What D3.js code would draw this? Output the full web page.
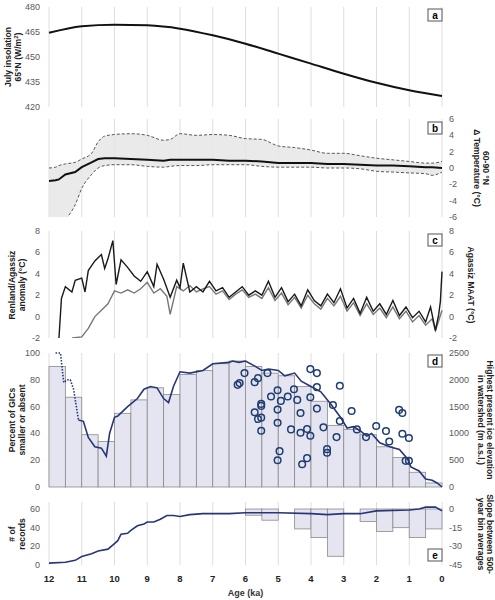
<!DOCTYPE html>
<html><head><meta charset="utf-8">
<script src="https://cdn.jsdelivr.net/npm/d3@7"></script>
<style>
body{margin:0;background:#fff}
text{font-family:"Liberation Sans",Arial,sans-serif}
.tick{font-size:9px;fill:#595959}
.ttl{font-size:8.6px;font-weight:bold;fill:#222}
</style></head><body><div id="chart"></div>
<script>
// panel a: insolation
const insAge = [12, 11, 10, 9, 8, 7, 6, 5, 4, 3, 2, 1, 0]
const insVal = [464.5, 468.5, 469.4, 469, 467, 463, 458, 452, 446, 440, 434.5, 430, 426.6]

// panel b: 60-90N temperature stack
const bAge = [12, 11.8, 11.7, 11.5, 11.2, 11, 10.7, 10.5, 10.3, 10, 9.5, 9, 8.5, 8.3, 8, 7.5, 7, 6.5, 6, 5.5, 5, 4.5, 4, 3.5, 3, 2.5, 2, 1.5, 1, 0.5, 0.3, 0]
const bMean = [-1.6, -1.5, -1.4, -0.8, -0.5, 0.1, 0.7, 1.1, 1.2, 1.2, 1.1, 1.0, 0.9, 1.0, 1.0, 1.0, 1.0, 0.9, 0.9, 0.8, 0.6, 0.6, 0.6, 0.5, 0.5, 0.4, 0.3, 0.3, 0.2, 0.1, 0.1, 0]
const bUpper = [0, 0.1, 0.3, 0.5, 0.7, 1.1, 1.8, 3.2, 3.9, 4.1, 4.2, 4.0, 3.4, 3.5, 4.2, 4.0, 4.1, 4.0, 3.6, 3.5, 2.7, 2.5, 2.2, 1.8, 1.8, 1.5, 1.2, 1.0, 0.8, 0.6, 0.6, 0.8]
const bLower = [-8.5, -7.5, -7, -6.3, -4.5, -2.5, -0.8, 0, 0.3, 0.4, 0.4, 0.2, 0.1, 0.2, 0.3, 0.3, 0.4, 0.4, 0.4, 0.2, 0.1, 0.1, 0.1, 0.0, 0.0, -0.1, -0.4, -0.5, -0.6, -0.7, -0.9, -0.5]

// panel c: Agassiz MAAT (black) and Renland/Agassiz anomaly (grey)
const cAgeA = [11.7, 11.62, 11.5, 11.3, 11.2, 11.0, 10.9, 10.8, 10.6, 10.4, 10.3, 10.2, 10.05, 9.95, 9.8, 9.6, 9.4, 9.2, 9.0, 8.8, 8.7, 8.5, 8.3, 8.1, 8.0, 7.9, 7.7, 7.5, 7.3, 7.1, 6.9, 6.7, 6.5, 6.3, 6.1, 5.9, 5.7, 5.5, 5.3, 5.1, 4.9, 4.7, 4.5, 4.3, 4.1, 3.9, 3.7, 3.5, 3.3, 3.1, 2.9, 2.7, 2.5, 2.3, 2.1, 1.9, 1.7, 1.5, 1.3, 1.1, 0.9, 0.7, 0.5, 0.35, 0.2, 0.1, 0.05, 0]
const cValA = [-2.2, 1.7, 2.8, 2.3, 3.4, 3.6, 2.3, 4.3, 5.2, 5.8, 4.5, 5.4, 7.1, 3.0, 5.3, 4.6, 3.8, 3.3, 4.2, 2.8, 4.9, 3.5, 1.8, 3.4, 2.7, 5.0, 2.3, 2.8, 2.3, 3.3, 2.4, 2.7, 1.8, 2.3, 2.8, 2.0, 2.4, 2.0, 3.3, 1.8, 2.7, 1.4, 2.1, 1.0, 2.5, 1.5, 1.0, 2.1, 1.3, 2.6, 0.8, 1.7, 0.3, 1.8, 0.5, 1.2, 0.2, 1.5, 0.1, 0.9, -0.1, 0.5, -0.5, 0.9, -1.3, 0.2, 1.4, 4.2]
const cAgeR = [11.3, 11.0, 10.8, 10.6, 10.4, 10.2, 10.0, 9.8, 9.6, 9.4, 9.2, 9.0, 8.8, 8.6, 8.4, 8.3, 8.1, 7.9, 7.7, 7.5, 7.3, 7.1, 6.9, 6.7, 6.5, 6.3, 6.1, 5.9, 5.7, 5.5, 5.3, 5.1, 4.9, 4.7, 4.5, 4.3, 4.1, 3.9, 3.7, 3.5, 3.3, 3.1, 2.9, 2.7, 2.5, 2.3, 2.1, 1.9, 1.7, 1.5, 1.3, 1.1, 0.9, 0.7, 0.5, 0.3, 0.2, 0.1, 0]
const cValR = [-2.0, -1.9, -1.1, 0.0, 0.6, 1.2, 2.4, 2.2, 2.5, 2.2, 2.6, 3.2, 2.2, 2.6, 1.9, 0.2, 2.8, 2.4, 2.9, 2.3, 2.6, 2.8, 2.1, 2.4, 1.6, 2.1, 2.5, 1.8, 2.1, 1.7, 2.7, 1.5, 2.2, 1.1, 1.8, 0.8, 2.0, 1.2, 0.7, 1.7, 1.0, 1.9, 0.5, 1.3, 0.1, 1.2, 0.2, 0.8, -0.1, 0.9, -0.2, 0.5, -0.5, 0.1, -0.8, -0.2, -1.3, -0.4, 0.6]

// panel d: percent of GICs smaller or absent
const dBinStart = [12, 11.5, 11, 10.5, 10, 9.5, 9, 8.5, 8, 7.5, 7, 6.5, 6, 5.5, 5, 4.5, 4, 3.5, 3, 2.5, 2, 1.5, 1, 0.5]
const dBinPct = [90, 67, 39, 34, 55, 65, 74, 69, 84, 87, 92, 94, 90, 85, 83, 75, 64, 46, 43, 39, 30, 22, 11, 3]
const dDotAge = [11.8, 11.65, 11.55, 11.45, 11.35, 11.25, 11.1]
const dDotPct = [100, 100, 78, 80, 80, 73, 50]
const dLineAge = [11.1, 10.95, 10.8, 10.6, 10.4, 10.25, 10.15, 10, 9.9, 9.6, 9.3, 9.1, 8.9, 8.7, 8.5, 8.35, 8.2, 8, 7.7, 7.3, 7, 6.5, 6.4, 6.2, 6, 5.7, 5.5, 5.3, 5, 4.8, 4.5, 4.3, 4, 3.7, 3.4, 3.1, 2.9, 2.7, 2.5, 2.3, 2.15, 1.9, 1.6, 1.3, 1.05, 0.95, 0.7, 0.5, 0.3, 0.15, 0]
const dLinePct = [50, 49, 37, 30, 29, 23, 40, 52, 53, 60, 66, 73, 75, 74, 66, 63, 75, 86, 85, 87, 92, 93, 94, 93, 94, 90, 87, 88, 87, 83, 85, 79, 75, 71, 62, 52, 44, 45, 42, 38, 40, 33, 30, 28, 21, 15, 12, 6, 5, 3, 0]
const iceAge = [6.24, 6.18, 6.03, 5.72, 5.62, 5.33, 5.72, 5.62, 5.52, 5.52, 5.52, 5.52, 5.22, 5.02, 5.02, 5.02, 4.96, 5.02, 4.92, 4.71, 4.61, 4.52, 4.42, 4.32, 4.32, 4.27, 4.12, 4.12, 4.02, 4.02, 4.02, 3.82, 3.82, 3.82, 3.62, 3.51, 3.51, 3.33, 3.22, 3.12, 3.12, 2.76, 2.6, 2.32, 2.01, 1.71, 1.61, 1.31, 1.21, 1.21, 1.11, 1.01, 1.01]
const iceElev = [1906, 1938, 2125, 1956, 2031, 2125, 1394, 1269, 1294, 1550, 1513, 1050, 1688, 1806, 1444, 1200, 669, 500, 1606, 1688, 1075, 1825, 1625, 1381, 1013, 425, 538, 1081, 2200, 1675, 956, 2125, 1863, 1463, 1113, 706, 638, 1531, 931, 1888, 1231, 1419, 1075, 931, 1138, 1044, 850, 1438, 1381, 994, 488, 488, 913]

// panel e: number of records and slope between bins
const eAge = [12, 11.5, 11.2, 11, 10.7, 10.5, 10.2, 10, 9.9, 9.8, 9.6, 9.5, 9.3, 9.1, 9, 8.8, 8.6, 8.4, 8.2, 8, 7.7, 7.3, 7, 6.5, 6, 5, 4, 3.5, 3, 2.5, 2, 1, 0.7, 0.5, 0.2, 0]
const eRec = [2, 3, 5, 9, 12, 15, 17, 23, 26, 33, 34, 37, 42, 44, 46, 46, 49, 53, 53, 52, 54, 55, 55, 55, 56, 56, 55, 54, 55, 55, 58, 59, 60, 62, 62, 58]
const eBinStart = [6, 5.5, 5, 4.5, 4, 3.5, 3, 2.5, 2, 1.5, 1, 0.5]
const eSlope = [-5, -9, 0, -16, -23, -38, 0, -10, -18, -15, -23, -16]

const xTicks = d3.range(0, 13)
const navy = '#27357a'

const W = 495, H = 600
const svg = d3.select('#chart').append('svg').attr('width', W).attr('height', H)
const x = d3.scaleLinear().domain([12, 0]).range([49, 442])

function grid(y0, y1) {
  svg.append('g').selectAll('line').data(xTicks).enter().append('line')
    .attr('x1', d => x(d)).attr('x2', d => x(d)).attr('y1', y0).attr('y2', y1)
    .attr('stroke', '#dedede').attr('stroke-width', 1)
}
function leftTicks(y, vals) {
  svg.append('g').selectAll('text').data(vals).enter().append('text')
    .attr('class', 'tick').attr('x', 40).attr('y', d => y(d) + 3).attr('text-anchor', 'end').text(d => d)
}
function rightTicks(y, vals) {
  svg.append('g').selectAll('text').data(vals).enter().append('text')
    .attr('class', 'tick').attr('x', 449).attr('y', d => y(d) + 3).text(d => d)
}
function title(xp, yp, lines, rot) {
  const t = svg.append('text').attr('class', 'ttl').attr('text-anchor', 'middle')
    .attr('transform', `translate(${xp},${yp}) rotate(${rot})`)
  lines.forEach((l, i) => t.append('tspan').attr('x', 0).attr('dy', i ? 9.5 : 0).text(l))
  return t
}
function box(yTop, letter) {
  svg.append('rect').attr('x', 428).attr('y', yTop).attr('width', 14).attr('height', 12)
    .attr('fill', '#fff').attr('stroke', '#555')
  svg.append('text').attr('x', 435).attr('y', yTop + 9.5).attr('text-anchor', 'middle')
    .attr('font-size', 10).attr('font-weight', 'bold').text(letter)
}

// ---- a
const ya = d3.scaleLinear().domain([420, 480]).range([107, 7])
grid(7, 107)
leftTicks(ya, [420, 435, 450, 465, 480])
svg.append('path').attr('fill', 'none').attr('stroke', '#111').attr('stroke-width', 2)
  .attr('d', d3.line().curve(d3.curveMonotoneX).x((d, i) => x(insAge[i])).y(d => ya(d))(insVal))
const ta = title(11, 57, ['July insolation', '65°N (W/m'], -90)
ta.select('tspan:last-child').append('tspan').attr('baseline-shift', 'super').attr('font-size', 6).text('2')
ta.select('tspan:last-child').append('tspan').text(')')
box(9, 'a')

// ---- b
const yb = d3.scaleLinear().domain([-6, 6]).range([217, 119])
grid(119, 217)
rightTicks(yb, [-6, -4, -2, 0, 2, 4, 6])
svg.append('clipPath').attr('id', 'cb').append('rect').attr('x', 49).attr('y', 119).attr('width', 393).attr('height', 98)
const gb = svg.append('g').attr('clip-path', 'url(#cb)')
gb.append('path').attr('fill', '#e6e6e6').attr('opacity', 0.85)
  .attr('d', d3.area().curve(d3.curveMonotoneX).x((d, i) => x(bAge[i])).y0((d, i) => yb(bLower[i])).y1(d => yb(d))(bUpper))
;[bUpper, bLower].forEach(s => gb.append('path').attr('fill', 'none').attr('stroke', '#444').attr('stroke-width', 0.9)
  .attr('stroke-dasharray', '3,2').attr('d', d3.line().curve(d3.curveMonotoneX).x((d, i) => x(bAge[i])).y(d => yb(d))(s)))
gb.append('path').attr('fill', 'none').attr('stroke', '#111').attr('stroke-width', 2)
  .attr('d', d3.line().x((d, i) => x(bAge[i])).y(d => yb(d))(bMean))
title(483, 168, ['60-90 °N', 'Δ Temperature (°C)'], 90)
box(122, 'b')

// ---- c
const yc = d3.scaleLinear().domain([-2, 8]).range([338, 231])
grid(231, 338)
leftTicks(yc, [-2, 0, 2, 4, 6, 8])
rightTicks(yc, [-2, 0, 2, 4, 6, 8])
svg.append('clipPath').attr('id', 'cc').append('rect').attr('x', 49).attr('y', 231).attr('width', 394).attr('height', 107)
const gc = svg.append('g').attr('clip-path', 'url(#cc)')
gc.append('path').attr('fill', 'none').attr('stroke', '#777').attr('stroke-width', 1.4)
  .attr('d', d3.line().x((d, i) => x(cAgeR[i])).y(d => yc(d))(cValR))
gc.append('path').attr('fill', 'none').attr('stroke', '#1a1a1a').attr('stroke-width', 1.4)
  .attr('d', d3.line().x((d, i) => x(cAgeA[i])).y(d => yc(d))(cValA))
title(15, 285, ['Renland/Agassiz', 'anomaly (°C)'], -90)
title(468, 285, ['Agassiz MAAT (°C)'], 90)
box(234, 'c')

// ---- d
const yd = d3.scaleLinear().domain([0, 100]).range([487, 353])
const yd2 = d3.scaleLinear().domain([0, 2500]).range([487, 353])
grid(353, 487)
leftTicks(yd, [0, 20, 40, 60, 80, 100])
rightTicks(yd2, [0, 500, 1000, 1500, 2000, 2500])
svg.append('g').selectAll('rect').data(dBinPct).enter().append('rect')
  .attr('x', (d, i) => x(dBinStart[i])).attr('width', (d, i) => x(dBinStart[i] - 0.5) - x(dBinStart[i]))
  .attr('y', d => yd(d)).attr('height', d => yd(0) - yd(d))
  .attr('fill', '#e4e5f0').attr('stroke', '#8a8a8a').attr('stroke-width', 0.8)
svg.append('path').attr('fill', 'none').attr('stroke', navy).attr('stroke-width', 1.6).attr('stroke-dasharray', '1.5,1.5')
  .attr('d', d3.line().x((d, i) => x(dDotAge[i])).y(d => yd(d))(dDotPct))
svg.append('path').attr('fill', 'none').attr('stroke', navy).attr('stroke-width', 1.6)
  .attr('d', d3.line().x((d, i) => x(dLineAge[i])).y(d => yd(d))(dLinePct))
svg.append('g').selectAll('circle').data(iceElev).enter().append('circle')
  .attr('cx', (d, i) => x(iceAge[i])).attr('cy', d => yd2(d)).attr('r', 3.3)
  .attr('fill', 'none').attr('stroke', '#1f3d73').attr('stroke-width', 1.5)
title(15, 420, ['Percent of GICs', 'smaller or absent'], -90)
title(487, 420, ['Highest present ice elevation', 'in watershed (m a.s.l.)'], 90)
box(355, 'd')

// ---- e
const ye = d3.scaleLinear().domain([0, 60]).range([565, 509])
const ye2 = d3.scaleLinear().domain([-45, 0]).range([565, 509])
grid(502, 565)
leftTicks(ye, [0, 20, 40, 60])
rightTicks(ye2, [-45, -30, -15, 0])
svg.append('g').selectAll('rect').data(eSlope).enter().append('rect')
  .attr('x', (d, i) => x(eBinStart[i])).attr('width', (d, i) => x(eBinStart[i] - 0.5) - x(eBinStart[i]))
  .attr('y', ye2(0)).attr('height', d => ye2(d) - ye2(0))
  .attr('fill', '#e4e5f0').attr('stroke', '#8a8a8a').attr('stroke-width', 0.8)
svg.append('path').attr('fill', 'none').attr('stroke', navy).attr('stroke-width', 1.6)
  .attr('d', d3.line().x((d, i) => x(eAge[i])).y(d => ye(d))(eRec))
title(15, 534, ['# of', 'records'], -90)
title(487, 534, ['Slope between 500-', 'year bin averages'], 90)
box(549, 'e')

// x axis
svg.append('g').selectAll('text').data(xTicks).enter().append('text')
  .attr('x', d => x(d)).attr('y', 582).attr('text-anchor', 'middle')
  .attr('font-size', 9.5).attr('font-weight', 'bold').attr('fill', '#222').text(d => d)
svg.append('text').attr('x', x(6)).attr('y', 596).attr('text-anchor', 'middle')
  .attr('font-size', 9).attr('font-weight', 'bold').attr('fill', '#333').text('Age (ka)')
</script></body></html>
